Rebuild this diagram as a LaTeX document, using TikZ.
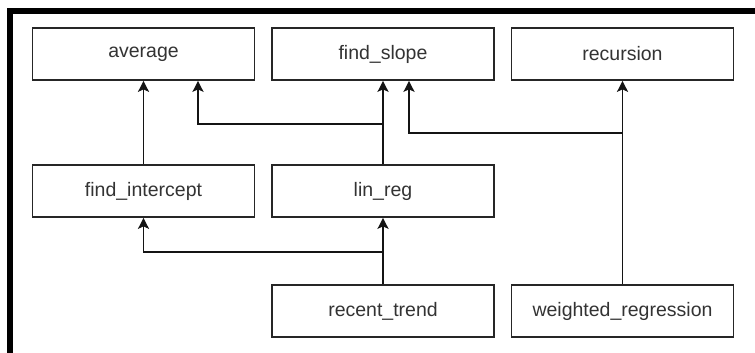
\documentclass[tikz,border=0pt]{standalone}
\usepackage{fontspec}
\setmainfont{Liberation Sans}
\usetikzlibrary{arrows.meta,calc}
\definecolor{boxline}{HTML}{262626}
\definecolor{wire}{HTML}{141414}
\definecolor{label}{HTML}{333333}
\begin{document}
\begin{tikzpicture}[x=1pt,y=-1pt,
  fn/.style={draw=boxline,line width=1.7pt,fill=white,rectangle,
    minimum width=222pt,minimum height=52pt,inner sep=0pt,
    text=label,font=\fontsize{19.5}{22}\selectfont},
  arr/.style={draw=wire,line width=1.7pt,
    -{Stealth[length=11pt,width=11pt,inset=2.5pt]}}]
  \useasboundingbox (0,0) rectangle (755,353);
  \fill[white] (0,0) rectangle (755,353);
  % heavy frame along the top and left
  \fill[black] (7,8) rectangle (755,14);
  \fill[black] (7,8) rectangle (13,353);

  % function boxes
  \node[fn] (avg) at (143.5,54) {average};
  \node[fn] (slope) at (383,54) {find\_slope};
  \node[fn] (rec) at (622.5,54) {recursion};
  \node[fn] (icpt) at (143.5,191) {find\_intercept};
  \node[fn] (lr) at (383,191) {lin\_reg};
  \node[fn] (trend) at (383,311) {recent\_trend};
  \node[fn] (wreg) at (622.5,311) {weighted\_regression};

  % call edges
  \draw[arr] (icpt.north) -- (avg.south);
  \draw[arr] (lr.north) -- (slope.south);
  \draw[arr] (lr.north) |- ($(avg.south)+(54.5,43)$) -- ($(avg.south)+(54.5,0)$);
  \draw[arr] (wreg.north) -- (rec.south);
  \draw[arr] (wreg.north) |- ($(slope.south)+(26,52)$) -- ($(slope.south)+(26,0)$);
  \draw[arr] (trend.north) -- (lr.south);
  \draw[arr] (trend.north) |- ($(icpt.south)+(0,34)$) -- (icpt.south);
\end{tikzpicture}
\end{document}
